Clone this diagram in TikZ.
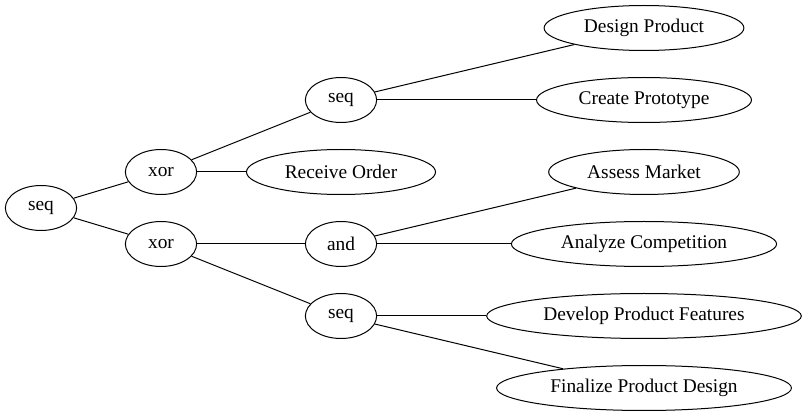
\documentclass[tikz,border=0pt]{standalone}
\usepackage{fontspec}
\setmainfont{Liberation Serif}
\usetikzlibrary{shapes.geometric}
\begin{document}
\begin{tikzpicture}[x=1pt,y=1pt,
  gnode/.style={draw,ellipse,line width=0.8pt,inner xsep=8.5pt,inner ysep=2pt,
    minimum width=57pt,minimum height=36pt,font=\fontsize{15.5}{17}\selectfont}]
\useasboundingbox (0,0) rectangle (646.4,335.2);
\node[gnode] (root) at (32.8,168.8) {seq};
\node[gnode] (xorA) at (128.8,197.6) {xor};
\node[gnode] (xorB) at (128.8,140) {xor};
\node[gnode] (seqA) at (272.8,255.2) {seq};
\node[gnode] (recv) at (272.8,197.6) {Receive Order};
\node[gnode] (andA) at (272.8,140) {and};
\node[gnode] (seqB) at (272.8,82.4) {seq};
\node[gnode] (dprod) at (515.2,312.8) {Design Product};
\node[gnode] (proto) at (515.2,255.2) {Create Prototype};
\node[gnode] (mkt) at (515.2,197.6) {Assess Market};
\node[gnode] (comp) at (515.2,140) {Analyze Competition};
\node[gnode] (feat) at (515.2,82.4) {Develop Product Features};
\node[gnode] (final) at (515.2,24.8) {Finalize Product Design};
\draw[line width=0.8pt] (root) -- (xorA);
\draw[line width=0.8pt] (root) -- (xorB);
\draw[line width=0.8pt] (xorA) -- (seqA);
\draw[line width=0.8pt] (xorA) -- (recv);
\draw[line width=0.8pt] (xorB) -- (andA);
\draw[line width=0.8pt] (xorB) -- (seqB);
\draw[line width=0.8pt] (seqA) -- (dprod);
\draw[line width=0.8pt] (seqA) -- (proto);
\draw[line width=0.8pt] (andA) -- (mkt);
\draw[line width=0.8pt] (andA) -- (comp);
\draw[line width=0.8pt] (seqB) -- (feat);
\draw[line width=0.8pt] (seqB) -- (final);
\end{tikzpicture}
\end{document}
